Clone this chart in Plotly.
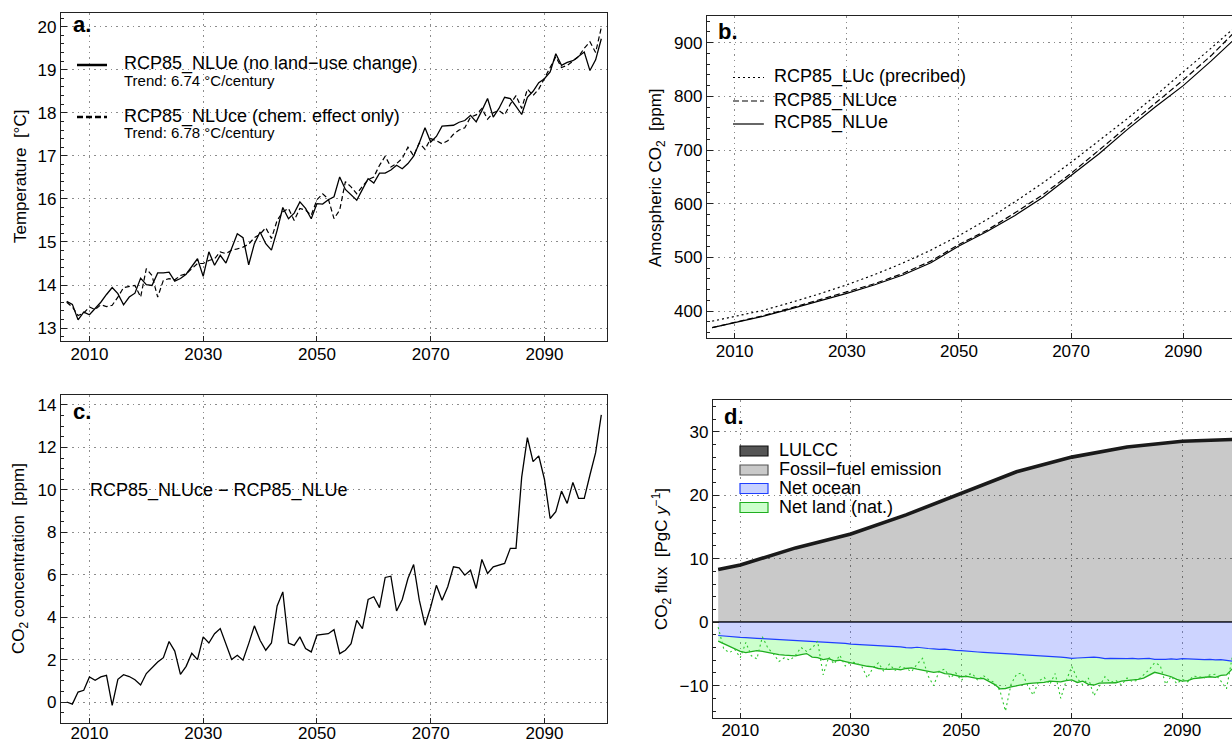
import plotly.graph_objects as go

W, H = 1232, 742

# ---------------- data ----------------
years = list(range(2006, 2101))

temp_nlue = [13.62, 13.55, 13.19, 13.37, 13.31, 13.45, 13.60, 13.78, 13.94, 13.80,
             13.54, 13.72, 13.81, 14.16, 14.01, 13.99, 14.28, 14.28, 14.30, 14.09,
             14.15, 14.25, 14.42, 14.61, 14.20, 14.77, 14.46, 14.69, 14.51, 14.84,
             15.19, 15.10, 14.47, 14.96, 15.23, 14.96, 14.81, 15.27, 15.80, 15.54,
             15.67, 15.93, 15.78, 15.54, 15.89, 15.88, 15.98, 16.05, 16.51, 16.22,
             16.09, 15.97, 16.22, 16.47, 16.37, 16.60, 16.60, 16.67, 16.78, 16.70,
             16.82, 16.99, 17.30, 17.65, 17.32, 17.45, 17.69, 17.70, 17.71, 17.78,
             17.82, 17.94, 17.79, 18.05, 18.33, 17.90, 18.10, 18.36, 18.33, 18.15,
             17.96, 18.36, 18.50, 18.70, 18.79, 18.95, 19.37, 19.10, 19.17, 19.21,
             19.30, 19.41, 18.98, 19.23, 19.72]

temp_nluce = [13.60, 13.49, 13.29, 13.35, 13.49, 13.43, 13.54, 13.50, 13.53, 13.72,
              13.94, 13.97, 13.99, 13.72, 14.38, 14.22, 13.72, 14.11, 14.15, 14.12,
              14.22, 14.26, 14.38, 14.50, 14.50, 14.57, 14.61, 14.77, 14.73, 14.81,
              14.84, 14.88, 14.95, 15.10, 15.18, 15.33, 15.08, 15.50, 15.70, 15.78,
              15.50, 15.78, 15.74, 15.62, 15.98, 16.12, 16.00, 15.54, 15.74, 16.40,
              16.28, 16.12, 16.29, 16.45, 16.51, 16.78, 16.99, 16.74, 16.82, 16.94,
              17.20, 17.00, 17.30, 17.15, 17.40, 17.35, 17.28, 17.35, 17.50, 17.60,
              17.65, 17.90, 17.95, 18.10, 17.85, 18.00, 18.05, 17.95, 18.20, 18.40,
              18.10, 18.55, 18.40, 18.55, 18.80, 19.05, 19.30, 19.05, 19.10, 19.20,
              19.30, 19.50, 19.65, 19.40, 19.98]

co2_years = [2006, 2010, 2015, 2020, 2025, 2030, 2035, 2040, 2045, 2050, 2055,
             2060, 2065, 2070, 2075, 2080, 2085, 2090, 2095, 2100]
co2_luc = [381.0, 389.3, 401.0, 415.8, 431.5, 448.8, 468.0, 489.4, 513.5, 540.5, 570.5,
           603.5, 639.0, 677.1, 717.0, 758.2, 800.9, 844.8, 890.0, 935.9]
co2_nluce = [369.0, 379.0, 391.0, 405.5, 420.5, 436.0, 451.0, 470.0, 493.0, 524.0, 550.5,
             583.0, 617.0, 656.5, 699.5, 744.0, 787.0, 830.5, 876.0, 928.5]
co2_nlue = [369.0, 378.0, 390.0, 404.0, 418.0, 433.0, 449.0, 467.0, 490.0, 521.0, 548.0,
            578.0, 612.0, 652.0, 693.0, 738.0, 780.0, 820.0, 866.0, 915.0]

co2_diff = [0.00, -0.10, 0.47, 0.55, 1.18, 1.02, 1.18, 1.26, -0.16, 1.07,
            1.29, 1.20, 1.05, 0.80, 1.34, 1.62, 1.88, 2.09, 2.85, 2.40,
            1.30, 1.68, 2.30, 2.00, 3.07, 2.78, 3.22, 3.46, 2.75, 2.00,
            2.20, 1.97, 2.75, 3.59, 2.91, 2.44, 2.78, 4.53, 5.19, 2.78,
            2.67, 3.07, 2.52, 2.36, 3.15, 3.18, 3.22, 3.41, 2.28, 2.44,
            2.75, 3.85, 3.46, 4.83, 4.96, 4.45, 5.87, 5.93, 4.29, 4.83,
            5.82, 6.48, 4.80, 3.62, 4.48, 5.50, 4.80, 5.43, 6.37, 6.32,
            5.98, 6.21, 5.35, 6.72, 6.06, 6.37, 6.45, 6.53, 7.24, 7.24,
            10.60, 12.46, 11.33, 11.60, 10.50, 8.65, 8.97, 9.94, 9.36, 10.35,
            9.60, 9.60, 10.70, 11.75, 13.53]

ff_years = [2006, 2010, 2020, 2030, 2040, 2050, 2060, 2070, 2080, 2090, 2100]
fossil = [8.3, 9.0, 11.7, 13.9, 16.9, 20.3, 23.7, 26.0, 27.6, 28.5, 28.8]

ocean = [-2.10, -2.20, -2.30, -2.35,
         -2.40, -2.45, -2.45, -2.55, -2.60, -2.65, -2.70, -2.75, -2.80, -2.85,
         -2.90, -2.95, -3.00, -3.05, -3.00, -3.15, -3.20, -3.25, -3.30, -3.35,
         -3.45, -3.50, -3.50, -3.55, -3.60, -3.65, -3.70, -3.70, -3.80, -3.90,
         -4.00, -4.05, -3.95, -4.10, -4.15, -4.20, -4.30, -4.25, -4.40, -4.45,
         -4.50, -4.60, -4.65, -4.70, -4.75, -4.80, -4.90, -4.85, -4.95, -5.05,
         -5.00, -5.10, -5.15, -5.20, -5.25, -5.30, -5.35, -5.40, -5.50, -5.60,
         -5.70, -5.65, -5.60, -5.65, -5.50, -5.60, -5.75, -5.70, -5.75, -5.70,
         -5.75, -5.70, -5.80, -5.75, -5.70, -5.85, -5.90, -5.85, -5.80, -5.85,
         -5.75, -5.80, -5.85, -5.80, -5.90, -5.85, -5.95, -5.90, -6.05, -6.15,
         -6.20]

land_smooth = [-3.00, -3.40, -3.90, -4.30,
               -4.60, -4.80, -4.70, -4.50, -4.60, -4.80, -4.95, -5.10, -5.20, -5.25,
               -5.30, -5.10, -4.95, -5.50, -5.60, -5.90, -5.75, -6.10, -6.00, -6.20,
               -6.40, -6.55, -6.70, -6.95, -7.05, -7.30, -7.40, -7.45, -7.35, -7.50,
               -7.30, -7.20, -7.40, -7.60, -7.80, -7.90, -7.80, -8.10, -8.20, -8.40,
               -8.60, -8.55, -8.70, -8.90, -8.85, -9.30, -9.80, -10.50, -10.45, -10.20,
               -10.00, -9.85, -9.70, -9.60, -9.55, -9.50, -9.30, -9.40, -9.40, -9.20,
               -9.10, -9.50, -9.30, -9.80, -9.90, -9.60, -9.60, -9.50, -9.55, -9.30,
               -9.20, -9.15, -9.00, -8.80, -8.40, -7.90, -8.10, -8.30, -8.60, -9.00,
               -9.30, -9.20, -8.90, -8.80, -8.70, -8.60, -8.70, -8.40, -8.30, -7.40,
               -6.70]

land_raw = [-0.80, -4.20, -4.80, -4.30,
            -5.60, -3.20, -5.30, -5.80, -2.30, -4.10, -5.00, -6.20, -5.60, -6.00,
            -5.20, -4.00, -4.60, -4.10, -3.00, -8.30, -5.50, -6.60, -5.20, -6.90,
            -6.30, -6.40, -7.00, -8.80, -7.20, -6.40, -7.80, -6.60, -7.60, -7.00,
            -7.30, -7.80, -6.60, -5.70, -8.50, -10.00, -7.70, -7.40, -8.80, -8.00,
            -9.20, -8.30, -8.10, -9.20, -8.40, -9.10, -9.50, -10.80, -14.00, -9.80,
            -8.20, -8.00, -9.90, -11.50, -9.30, -8.70, -9.80, -8.10, -12.00, -9.20,
            -7.00, -8.90, -9.90, -8.80, -11.60, -10.00, -8.60, -9.50, -9.20, -9.90,
            -8.80, -9.40, -9.10, -8.30, -7.50, -6.40, -6.80, -9.80, -8.50, -9.70,
            -9.00, -9.40, -8.50, -8.60, -8.80, -8.30, -8.20, -9.30, -10.50, -5.70,
            -6.00]

x_ticks = [2010, 2030, 2050, 2070, 2090]

# ---------------- layout helpers ----------------
def px(x):
    return x / W

def py(y):
    return 1 - y / H

FONT = "Liberation Sans, Arial, Helvetica, sans-serif"
FRAME = "#222222"
GRID = "#8c8c8c"
GDASH = "1.5px,4px"

fig = go.Figure()

# panel a
fig.add_trace(go.Scatter(x=years, y=temp_nluce, mode="lines", xaxis="x", yaxis="y",
                         line=dict(color="black", width=1.2, dash="5px,3px"), showlegend=False))
fig.add_trace(go.Scatter(x=years, y=temp_nlue, mode="lines", xaxis="x", yaxis="y",
                         line=dict(color="black", width=1.3), showlegend=False))

# panel b
fig.add_trace(go.Scatter(x=co2_years, y=co2_luc, mode="lines", xaxis="x2", yaxis="y2",
                         line=dict(color="black", width=1.2, dash="2px,3px"), showlegend=False))
fig.add_trace(go.Scatter(x=co2_years, y=co2_nluce, mode="lines", xaxis="x2", yaxis="y2",
                         line=dict(color="black", width=1.2, dash="6px,3px"), showlegend=False))
fig.add_trace(go.Scatter(x=co2_years, y=co2_nlue, mode="lines", xaxis="x2", yaxis="y2",
                         line=dict(color="black", width=1.2), showlegend=False))

# panel c
fig.add_trace(go.Scatter(x=years, y=co2_diff, mode="lines", xaxis="x3", yaxis="y3",
                         line=dict(color="black", width=1.3), showlegend=False))

# panel d
fig.add_trace(go.Scatter(x=ff_years, y=fossil, mode="lines", xaxis="x4", yaxis="y4",
                         fill="tozeroy", fillcolor="rgba(0,0,0,0.21)",
                         line=dict(color="#555555", width=1), showlegend=False))
fig.add_trace(go.Scatter(x=ff_years, y=fossil, mode="lines", xaxis="x4", yaxis="y4",
                         line=dict(color="#1a1a1a", width=3.6), showlegend=False))
fig.add_trace(go.Scatter(x=years, y=ocean, mode="lines", xaxis="x4", yaxis="y4",
                         fill="tozeroy", fillcolor="rgba(60,90,255,0.26)",
                         line=dict(color="#1f3fff", width=1.2), showlegend=False))
fig.add_trace(go.Scatter(x=years, y=land_smooth, mode="lines", xaxis="x4", yaxis="y4",
                         fill="tonexty", fillcolor="rgba(0,255,0,0.2)",
                         line=dict(color="#1fae1f", width=1.3), showlegend=False))
fig.add_trace(go.Scatter(x=years, y=land_raw, mode="lines", xaxis="x4", yaxis="y4",
                         line=dict(color="#2ec82e", width=1.1, dash="2px,3px"), showlegend=False))


def xaxis(domain, rng, anchor, standoff=-3):
    return dict(domain=domain, range=rng, anchor=anchor, tickvals=x_ticks,
                ticks="inside", ticklen=5, tickwidth=1, tickcolor=FRAME,
                showgrid=True, gridcolor=GRID, griddash=GDASH, gridwidth=1,
                showline=True, linecolor=FRAME, linewidth=1.4, mirror=True,
                zeroline=False, automargin=False, ticklabelstandoff=standoff,
                tickfont=dict(size=17, color="black", family=FONT))


def yaxis(domain, rng, anchor, dtick, minor, mirror=True, zeroline=False):
    return dict(domain=domain, range=rng, anchor=anchor, dtick=dtick, tick0=0,
                ticks="inside", ticklen=6, tickwidth=1, tickcolor=FRAME,
                minor=dict(ticks="inside", ticklen=3, dtick=minor, tick0=0,
                           tickcolor=FRAME, showgrid=False),
                showgrid=True, gridcolor=GRID, griddash=GDASH, gridwidth=1,
                showline=True, linecolor=FRAME, linewidth=1.4, mirror=mirror,
                zeroline=zeroline, zerolinecolor="#444444", zerolinewidth=1.5,
                automargin=False,
                tickfont=dict(size=17, color="black", family=FONT))


fig.update_layout(
    width=W, height=H, margin=dict(l=0, r=0, t=0, b=0, autoexpand=False),
    paper_bgcolor="white", plot_bgcolor="white",
    font=dict(family=FONT, color="black", size=16),
    hovermode=False,
    xaxis=xaxis([px(61), px(607)], [2005.0, 2101.0], "y"),
    yaxis=yaxis([py(341), py(13.3)], [12.70, 20.31], "x", 1, 0.2),
    xaxis2=xaxis([px(707), 1.0], [2005.07, 2098.7], "y2"),
    yaxis2=yaxis([py(338), py(16)], [349.7, 949.7], "x2", 100, 20, mirror=False),
    xaxis3=xaxis([px(61), px(607)], [2005.0, 2101.0], "y3", standoff=-6),
    yaxis3=yaxis([py(723), py(395)], [-0.99, 14.47], "x3", 2, 0.5),
    xaxis4=xaxis([px(713), 1.0], [2005.06, 2099.0], "y4", standoff=-4),
    yaxis4=yaxis([py(718), py(400)], [-15.1, 35.0], "x4", 10, 2, mirror=False, zeroline=True),
)

ann = []
shapes = []


def text(x, y, s, size=16, bold=False, xanchor="left", angle=0):
    if bold:
        s = "<b>" + s + "</b>"
    ann.append(dict(x=px(x), y=py(y), xref="paper", yref="paper", text=s,
                    showarrow=False, xanchor=xanchor, yanchor="middle", textangle=angle,
                    font=dict(size=size, family=FONT, color="black")))


def hline(x0, x1, y, dash="solid", width=1.2, color="black"):
    shapes.append(dict(type="line", xref="paper", yref="paper", x0=px(x0), x1=px(x1),
                       y0=py(y), y1=py(y), line=dict(color=color, width=width, dash=dash)))


def box(x0, x1, yc, fill, edge):
    shapes.append(dict(type="rect", xref="paper", yref="paper", x0=px(x0), x1=px(x1),
                       y0=py(yc + 5), y1=py(yc - 5), fillcolor=fill,
                       line=dict(color=edge, width=1.2)))


# panel labels
text(71, 25, "a.", 22, bold=True)
text(716, 32, "b.", 22, bold=True)
text(71, 411, "c.", 22, bold=True)
text(722, 416, "d.", 22, bold=True)

# panel a legend
hline(77, 107, 65, width=2.5)
text(122, 64, "RCP85_NLUe (no land−use change)", 18)
text(122, 81, "Trend: 6.74 °C/century", 15)
hline(77, 107, 117, dash="6px,3px", width=2.5)
text(122, 116, "RCP85_NLUce (chem. effect only)", 18)
text(122, 132, "Trend: 6.78 °C/century", 15)

# panel b legend
hline(733, 764, 77.5, dash="2px,3px")
text(772, 77, "RCP85_LUc (precribed)", 18)
hline(733, 764, 101, dash="6px,3px")
text(772, 100, "RCP85_NLUce", 18)
hline(733, 764, 124)
text(772, 123, "RCP85_NLUe", 18)

# panel c annotation
text(88, 490, "RCP85_NLUce − RCP85_NLUe", 18)

# panel d legend
box(740, 768, 451, "#555555", "#111111")
text(777, 450, "LULCC", 18)
box(740, 768, 470, "#c9c9c9", "#555555")
text(777, 469, "Fossil−fuel emission", 18)
box(740, 768, 488.5, "#c8d2ff", "#1f3fff")
text(777, 488, "Net ocean", 18)
box(740, 768, 507.5, "#ccffcc", "#1fae1f")
text(777, 507, "Net land (nat.)", 18)

# axis titles
text(20, 177, "Temperature  [°C]", 17, xanchor="center", angle=-90)
text(657, 178, "Amospheric CO<sub>2</sub>  [ppm]", 17, xanchor="center", angle=-90)
text(20, 559, "CO<sub>2</sub> concentration  [ppm]", 17, xanchor="center", angle=-90)
text(661, 559, "CO<sub>2</sub> flux  [PgC <i>y</i><sup>−1</sup>]", 17, xanchor="center", angle=-90)

fig.update_layout(annotations=ann, shapes=shapes)

fig.write_html("out.html", config={"displayModeBar": False},
               post_script="document.body.style.margin='0px';")
